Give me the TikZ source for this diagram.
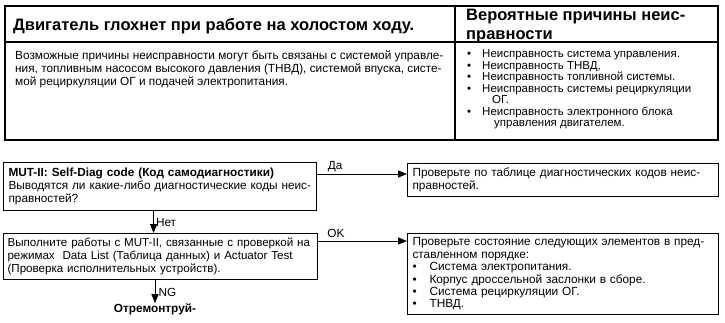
\documentclass[tikz,border=0pt]{standalone}
\usepackage{fontspec}
\setmainfont{Liberation Sans}
\usetikzlibrary{arrows.meta,positioning}
\tikzset{
  cell/.style={anchor=north west, align=left, inner sep=0pt, font=\fontsize{11.8}{12.8}\selectfont},
  hdr/.style={cell, anchor=west, font=\fontsize{16.5}{19}\selectfont\bfseries},
  box/.style={draw, line width=1.1pt, anchor=north west, align=left, inner xsep=5pt, inner ysep=0pt, font=\fontsize{11.8}{12.8}\selectfont},
  lbl/.style={inner sep=0pt, font=\fontsize{11.8}{12}\selectfont},
  arr/.style={-{Triangle[length=9pt,width=7pt]}, line width=1pt},
}
\newcommand{\bul}[1][15pt]{\makebox[#1][l]{•}}

\begin{document}
\begin{tikzpicture}[x=1pt,y=-1pt]
\useasboundingbox (0,0) rectangle (725,322);
\draw[line width=1.1pt] (5,6) rectangle (718,140);
\draw[line width=1.1pt] (5,42) -- (718,42) (455,6) -- (455,140);
\node[hdr] (title) at (13,26) {Двигатель глохнет при работе на холостом ходу.};
\node[hdr] (causeshdr) at (466,26.3) {Вероятные причины неис-\\правности};
\node[cell, font=\fontsize{11.8}{13}\selectfont] (possible) at (15,50.3) {Возможные причины неисправности могут быть связаны с системой управле-\\ния, топливным насосом высокого давления (ТНВД), системой впуска, систе-\\мой рециркуляции ОГ и подачей электропитания.};
\node[cell, font=\fontsize{11.5}{11.5}\selectfont] (causes) at (467,49.5) {\bul Неисправность система управления.\\\bul Неисправность ТНВД,\\\bul Неисправность топливной системы.\\\bul Неисправность системы рециркуляции\\\hspace*{25pt}ОГ.\\\bul Неисправность электронного блока\\\hspace*{27pt}управления двигателем.};

\node[box, minimum width=313pt, minimum height=48pt, text width=303pt] (diag) at (3,162) {\textbf{MUT-II: Self-Diag code (Код самодиагностики)}\\Выводятся ли какие-либо диагностические коды неис-\\правностей?};
\node[box, minimum width=311pt, minimum height=33pt, text width=301pt] (codes) at (407,163) {Проверьте по таблице диагностических кодов неис-\\правностей.};
\node[box, inner xsep=4pt, minimum width=314pt, minimum height=46pt, text width=306pt, font=\fontsize{11.6}{12.8}\selectfont] (mut) at (3,233) {Выполните работы с MUT-II, связанные с проверкой на\\режимах\ \ Data List (Таблица данных) и Actuator Test\\(Проверка исполнительных устройств).};
\node[box, minimum width=311pt, minimum height=81pt, text width=301pt, font=\fontsize{11.8}{12.4}\selectfont] (check) at (407,233) {Проверьте состояние следующих элементов в пред-\\ставленном порядке:\\\bul[17pt]Система электропитания.\\\bul[17pt]Корпус дроссельной заслонки в сборе.\\\bul[17pt]Система рециркуляции ОГ.\\\bul[17pt]ТНВД.};
\node[lbl, font=\fontsize{11.8}{12}\selectfont\bfseries] (repair) at (155,309) {Отремонтруй-};

\draw[arr] ([yshift=-11pt]codes.north west -| diag.east) -- ([yshift=-11pt]codes.north west) node[lbl, pos=0.2, above=2pt] {Да};
\draw[arr] ([yshift=-8pt]check.north west -| mut.east) -- ([yshift=-8pt]check.north west) node[lbl, pos=0.2, above=3pt] {OK};
\draw[arr] ([xshift=-6.5pt]diag.south) -- ([xshift=-6.5pt]diag.south |- mut.north) node[lbl, midway, right=2pt] {Нет};
\draw[arr] (mut.south -| repair.north) -- (repair.north) node[lbl, pos=0.55, right=3pt] {NG};
\end{tikzpicture}
\end{document}
